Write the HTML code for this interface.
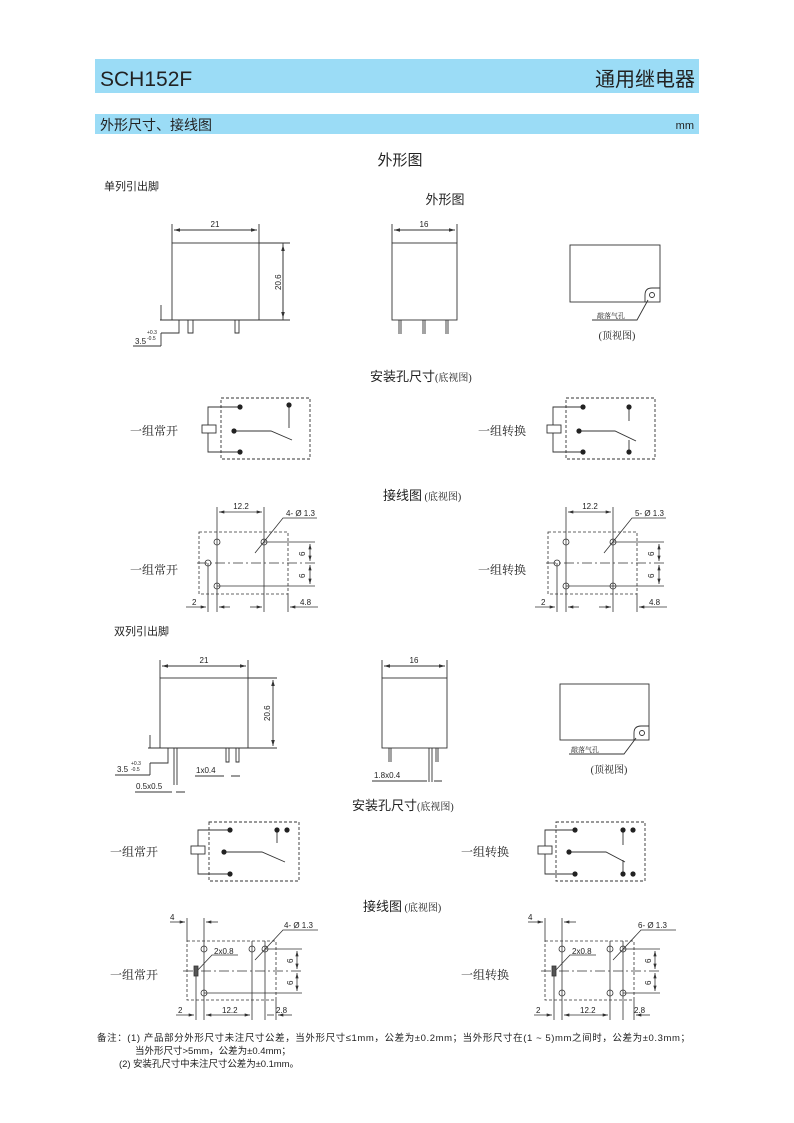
<!DOCTYPE html>
<html><head><meta charset="utf-8"><style>
body{margin:0;background:#fff}
svg{display:block}
text{font-family:"Liberation Sans","Noto Sans CJK SC",sans-serif;fill:#222}
.s{font-family:"Liberation Serif","Noto Serif CJK SC",serif}
</style></head><body>
<svg width="794" height="1123" viewBox="0 0 794 1123" xmlns="http://www.w3.org/2000/svg">
<defs>
<marker id="a" viewBox="0 0 10 6" refX="10" refY="3" markerWidth="7" markerHeight="4" orient="auto-start-reverse"><path d="M0,0L10,3L0,6z" fill="#333"/></marker>
</defs>
<rect x="95" y="59" width="604" height="34" fill="#9bdcf6"/>
<text x="100" y="86" font-size="21">SCH152F</text>
<text x="695" y="86" font-size="20" text-anchor="end">通用继电器</text>
<rect x="95" y="114" width="604" height="20" fill="#9bdcf6"/>
<text x="100" y="130" font-size="14">外形尺寸、接线图</text>
<text x="694" y="129" font-size="11" text-anchor="end">mm</text>
<text x="400" y="165" font-size="15" text-anchor="middle">外形图</text>
<text x="104" y="190" font-size="11">单列引出脚</text>
<text x="445" y="204" font-size="13" text-anchor="middle">外形图</text>

<g stroke="#333" fill="none" stroke-width="0.9">
<rect x="172" y="243" width="87" height="77"/>
<path d="M172 224V243M259 224V243M259 243H290M160 320H290M283 320V243"/>
<path d="M174 230H257" marker-start="url(#a)" marker-end="url(#a)"/>
<path d="M283 245V318" marker-start="url(#a)" marker-end="url(#a)"/>
<path d="M179 320V333H161M188 320V333H193V320M235 320V333H239V320"/>
<path d="M161 305V320M161 333V346M133 346H161"/>
<rect x="392" y="243" width="65" height="77"/>
<path d="M392 224V243M457 224V243"/>
<path d="M394 230H455" marker-start="url(#a)" marker-end="url(#a)"/>
<path d="M399 320V334M401 320V334M423 320V334M425 320V334M446 320V334M448 320V334"/>
<rect x="570" y="245" width="90" height="57"/>
<path d="M645 302V295Q645 288 652 288H660"/>
<circle cx="652" cy="295" r="2.5"/>
<path d="M592 320H637L648 300"/>
</g>
<text x="215" y="227" font-size="8" text-anchor="middle">21</text>
<text x="0" y="0" font-size="8" transform="translate(281,290) rotate(-90)">20.6</text>
<text x="135" y="344" font-size="8">3.5</text>
<text x="147" y="334" font-size="5">+0.3</text>
<text x="147" y="340" font-size="5">-0.5</text>
<text x="424" y="227" font-size="8" text-anchor="middle">16</text>
<text x="597" y="318" font-size="7" class="s">敲落气孔</text>
<text x="617" y="339" font-size="10" text-anchor="middle" class="s">(顶视图)</text>

<text x="370" y="381" font-size="13">安装孔尺寸<tspan font-size="10" class="s">(底视图)</tspan></text>
<text x="130" y="435" font-size="12" class="s">一组常开</text>
<text x="478" y="435" font-size="12" class="s">一组转换</text>
<g stroke="#333" fill="none" stroke-width="0.9">
<rect x="221" y="398" width="89" height="61" stroke-dasharray="3,2"/>
<rect x="202" y="425" width="14" height="8"/>
<path d="M208 425V407H240M208 433V452H240M234 431H271L292 440M289 405V428"/>
<rect x="566" y="398" width="89" height="61" stroke-dasharray="3,2"/>
<rect x="547" y="425" width="14" height="8"/>
<path d="M553 425V407H583M553 433V452H583M579 431H615L636 441M629 407V421M629 452V440"/>
</g>
<g fill="#222">
<circle cx="240" cy="407" r="2.6"/><circle cx="234" cy="431" r="2.6"/><circle cx="240" cy="452" r="2.6"/><circle cx="289" cy="405" r="2.6"/>
<circle cx="583" cy="407" r="2.6"/><circle cx="579" cy="431" r="2.6"/><circle cx="583" cy="452" r="2.6"/><circle cx="629" cy="407" r="2.6"/><circle cx="629" cy="452" r="2.6"/>
</g>

<text x="383" y="500" font-size="13">接线图<tspan font-size="10" class="s"> (底视图)</tspan></text>
<text x="130" y="574" font-size="12" class="s">一组常开</text>
<text x="478" y="574" font-size="12" class="s">一组转换</text>
<g stroke="#333" fill="none" stroke-width="0.8">
<g>
<rect x="199" y="532" width="89" height="62" stroke-dasharray="3,2"/>
<path d="M197 563H315" stroke-dasharray="10,3,2,3"/>
<path d="M217 507V612M264 507V612M208 563V612M288 594V612M264 542H315M217 586H315"/>
<path d="M219 512H262" marker-start="url(#a)" marker-end="url(#a)"/>
<path d="M310 544V561" marker-start="url(#a)" marker-end="url(#a)"/>
<path d="M310 565V584" marker-start="url(#a)" marker-end="url(#a)"/>
<path d="M186 607H206" marker-end="url(#a)"/><path d="M230 607H219" marker-end="url(#a)"/>
<path d="M250 607H262" marker-end="url(#a)"/><path d="M318 607H290" marker-end="url(#a)"/>
<path d="M255 553L283 518H317"/>
<circle cx="217" cy="542" r="3"/><circle cx="264" cy="542" r="3"/><circle cx="208" cy="563" r="3"/><circle cx="217" cy="586" r="3"/>
</g>
<g transform="translate(349,0)">
<rect x="199" y="532" width="89" height="62" stroke-dasharray="3,2"/>
<path d="M197 563H315" stroke-dasharray="10,3,2,3"/>
<path d="M217 507V612M264 507V612M208 563V612M288 594V612M264 542H315M217 586H315"/>
<path d="M219 512H262" marker-start="url(#a)" marker-end="url(#a)"/>
<path d="M310 544V561" marker-start="url(#a)" marker-end="url(#a)"/>
<path d="M310 565V584" marker-start="url(#a)" marker-end="url(#a)"/>
<path d="M186 607H206" marker-end="url(#a)"/><path d="M230 607H219" marker-end="url(#a)"/>
<path d="M250 607H262" marker-end="url(#a)"/><path d="M318 607H290" marker-end="url(#a)"/>
<path d="M255 553L283 518H317"/>
<circle cx="217" cy="542" r="3"/><circle cx="264" cy="542" r="3"/><circle cx="208" cy="563" r="3"/><circle cx="217" cy="586" r="3"/><circle cx="264" cy="586" r="3"/>
</g>
</g>
<text x="241" y="509" font-size="8" text-anchor="middle">12.2</text>
<text x="286" y="516" font-size="8">4- Ø 1.3</text>
<text x="192" y="605" font-size="8">2</text>
<text x="300" y="605" font-size="8">4.8</text>
<text x="0" y="0" font-size="8" transform="translate(305,556) rotate(-90)">6</text>
<text x="0" y="0" font-size="8" transform="translate(305,578) rotate(-90)">6</text>
<text x="590" y="509" font-size="8" text-anchor="middle">12.2</text>
<text x="635" y="516" font-size="8">5- Ø 1.3</text>
<text x="541" y="605" font-size="8">2</text>
<text x="649" y="605" font-size="8">4.8</text>
<text x="0" y="0" font-size="8" transform="translate(654,556) rotate(-90)">6</text>
<text x="0" y="0" font-size="8" transform="translate(654,578) rotate(-90)">6</text>

<text x="114" y="635" font-size="11">双列引出脚</text>
<g stroke="#333" fill="none" stroke-width="0.9">
<rect x="160" y="678" width="88" height="70"/>
<path d="M160 660V678M248 660V678M248 678H277M148 748H277"/>
<path d="M162 666H246" marker-start="url(#a)" marker-end="url(#a)"/>
<path d="M273 680V746" marker-start="url(#a)" marker-end="url(#a)"/>
<path d="M168 748V763H150M174 748V785M177 748V785M226 748V762H229V748M236 748V762H239V748"/>
<path d="M150 735V748M150 763V775M115 775H150"/>
<path d="M135 792H172M176 792H185M195 776H224M231 776H240"/>
<rect x="382" y="678" width="65" height="70"/>
<path d="M382 660V678M447 660V678"/>
<path d="M384 666H445" marker-start="url(#a)" marker-end="url(#a)"/>
<path d="M389 748V762M391 748V762M429 748V782M432 748V782M436 748V762M438 748V762"/>
<path d="M372 781H427M434 781H442"/>
<rect x="560" y="684" width="89" height="56"/>
<path d="M634 740V733Q634 726 641 726H649"/>
<circle cx="642" cy="733" r="2.5"/>
<path d="M569 754H624L636 738"/>
</g>
<text x="204" y="663" font-size="8" text-anchor="middle">21</text>
<text x="0" y="0" font-size="8" transform="translate(270,721) rotate(-90)">20.6</text>
<text x="117" y="772" font-size="8">3.5</text>
<text x="131" y="765" font-size="5">+0.3</text>
<text x="131" y="771" font-size="5">-0.5</text>
<text x="136" y="789" font-size="8">0.5x0.5</text>
<text x="196" y="773" font-size="8">1x0.4</text>
<text x="414" y="663" font-size="8" text-anchor="middle">16</text>
<text x="374" y="778" font-size="8">1.8x0.4</text>
<text x="571" y="752" font-size="7" class="s">敲落气孔</text>
<text x="609" y="773" font-size="10" text-anchor="middle" class="s">(顶视图)</text>

<text x="352" y="810" font-size="13">安装孔尺寸<tspan font-size="10" class="s">(底视图)</tspan></text>
<text x="110" y="856" font-size="12" class="s">一组常开</text>
<text x="461" y="856" font-size="12" class="s">一组转换</text>
<g stroke="#333" fill="none" stroke-width="0.9">
<rect x="209" y="822" width="90" height="59" stroke-dasharray="3,2"/>
<rect x="191" y="846" width="14" height="8"/>
<path d="M198 846V830H230M198 854V874H230M224 852H262L285 862M277 830V843"/>
<rect x="556" y="822" width="89" height="59" stroke-dasharray="3,2"/>
<rect x="538" y="846" width="14" height="8"/>
<path d="M545 846V830H575M545 854V874H575M569 852H606L625 862M623 830V845M623 874V860"/>
</g>
<g fill="#222">
<circle cx="230" cy="830" r="2.6"/><circle cx="224" cy="852" r="2.6"/><circle cx="230" cy="874" r="2.6"/><circle cx="277" cy="830" r="2.6"/><circle cx="287" cy="830" r="2.6"/>
<circle cx="575" cy="830" r="2.6"/><circle cx="569" cy="852" r="2.6"/><circle cx="575" cy="874" r="2.6"/><circle cx="623" cy="830" r="2.6"/><circle cx="633" cy="830" r="2.6"/><circle cx="623" cy="874" r="2.6"/><circle cx="633" cy="874" r="2.6"/>
</g>

<text x="363" y="911" font-size="13">接线图<tspan font-size="10" class="s"> (底视图)</tspan></text>
<text x="110" y="979" font-size="12" class="s">一组常开</text>
<text x="461" y="979" font-size="12" class="s">一组转换</text>
<g stroke="#333" fill="none" stroke-width="0.8">
<g>
<rect x="187" y="941" width="89" height="59" stroke-dasharray="3,2"/>
<path d="M183 971H303" stroke-dasharray="10,3,2,3"/>
<path d="M187 918V941M204 918V1020M252 941V1020M265 941V1020M196 971V1020M276 1000V1020M265 949H302M204 993H302"/>
<path d="M170 922H185" marker-end="url(#a)"/><path d="M218 922H206" marker-end="url(#a)"/>
<path d="M297 951V969" marker-start="url(#a)" marker-end="url(#a)"/>
<path d="M297 973V991" marker-start="url(#a)" marker-end="url(#a)"/>
<path d="M176 1015H194" marker-end="url(#a)"/><path d="M206 1015H250" marker-start="url(#a)" marker-end="url(#a)"/>
<path d="M267 1015H274" /><path d="M292 1015H278" marker-end="url(#a)"/>
<path d="M255 960L283 930H318"/>
<path d="M196 972L212 955H238"/>
<circle cx="204" cy="949" r="3"/><circle cx="252" cy="949" r="3"/><circle cx="265" cy="949" r="3"/><circle cx="204" cy="993" r="3"/>
<rect x="194" y="966" width="4" height="10" fill="#555"/>
</g>
<g transform="translate(358,0)">
<rect x="187" y="941" width="89" height="59" stroke-dasharray="3,2"/>
<path d="M183 971H303" stroke-dasharray="10,3,2,3"/>
<path d="M187 918V941M204 918V1020M252 941V1020M265 941V1020M196 971V1020M276 1000V1020M265 949H302M265 993H302"/>
<path d="M170 922H185" marker-end="url(#a)"/><path d="M218 922H206" marker-end="url(#a)"/>
<path d="M297 951V969" marker-start="url(#a)" marker-end="url(#a)"/>
<path d="M297 973V991" marker-start="url(#a)" marker-end="url(#a)"/>
<path d="M176 1015H194" marker-end="url(#a)"/><path d="M206 1015H250" marker-start="url(#a)" marker-end="url(#a)"/>
<path d="M292 1015H278" marker-end="url(#a)"/>
<path d="M255 960L283 930H318"/>
<path d="M196 972L212 955H238"/>
<circle cx="204" cy="949" r="3"/><circle cx="252" cy="949" r="3"/><circle cx="265" cy="949" r="3"/><circle cx="204" cy="993" r="3"/><circle cx="252" cy="993" r="3"/><circle cx="265" cy="993" r="3"/>
<rect x="194" y="966" width="4" height="10" fill="#555"/>
</g>
</g>
<text x="170" y="920" font-size="8">4</text>
<text x="214" y="954" font-size="8">2x0.8</text>
<text x="284" y="928" font-size="8">4- Ø 1.3</text>
<text x="178" y="1013" font-size="8">2</text>
<text x="222" y="1013" font-size="8">12.2</text>
<text x="276" y="1013" font-size="8">2.8</text>
<text x="0" y="0" font-size="8" transform="translate(293,963) rotate(-90)">6</text>
<text x="0" y="0" font-size="8" transform="translate(293,985) rotate(-90)">6</text>
<text x="528" y="920" font-size="8">4</text>
<text x="572" y="954" font-size="8">2x0.8</text>
<text x="638" y="928" font-size="8">6- Ø 1.3</text>
<text x="536" y="1013" font-size="8">2</text>
<text x="580" y="1013" font-size="8">12.2</text>
<text x="634" y="1013" font-size="8">2.8</text>
<text x="0" y="0" font-size="8" transform="translate(651,963) rotate(-90)">6</text>
<text x="0" y="0" font-size="8" transform="translate(651,985) rotate(-90)">6</text>

<text x="97" y="1041" font-size="9.5" textLength="593" lengthAdjust="spacing">备注：(1)  产品部分外形尺寸未注尺寸公差，当外形尺寸≤1mm，公差为±0.2mm；当外形尺寸在(1 ~ 5)mm之间时，公差为±0.3mm；</text>
<text x="135" y="1054" font-size="9.5">当外形尺寸&gt;5mm，公差为±0.4mm；</text>
<text x="119" y="1067" font-size="9.5" textLength="180" lengthAdjust="spacing">(2)  安装孔尺寸中未注尺寸公差为±0.1mm。</text>
</svg>
</body></html>
